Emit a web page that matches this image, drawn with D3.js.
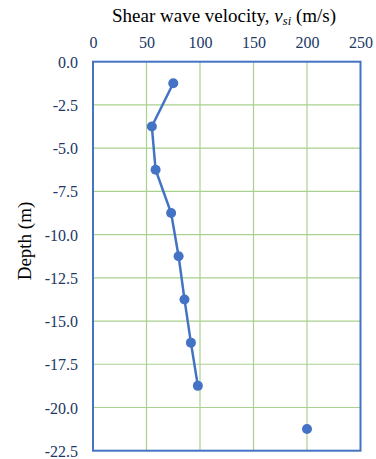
<!DOCTYPE html>
<html>
<head>
<meta charset="utf-8">
<script src="https://cdn.jsdelivr.net/npm/d3@7"></script>
<style>
  body { margin: 0; background: #fff; }
</style>
</head>
<body>
<script>
// depth of each layer midpoint (m) and its shear wave velocity (m/s)
var depths = [-1.25, -3.75, -6.25, -8.75, -11.25, -13.75, -16.25, -18.75, -21.25];
var velocities = [75, 55, 58.5, 73, 80, 85.5, 91.5, 98, 200];
// last layer is plotted as a lone marker, not joined to the profile
var joined = [true, true, true, true, true, true, true, true, false];
var xTicks = [0, 50, 100, 150, 200, 250];
var yTicks = [0, -2.5, -5, -7.5, -10, -12.5, -15, -17.5, -20, -22.5];

var W = 376, H = 459;
var plotL = 93, plotR = 360.5, plotT = 61.7, plotB = 450.7;
var serif = "'Liberation Serif', 'Times New Roman', serif";

var svg = d3.select("body").append("svg")
    .attr("width", W)
    .attr("height", H);

var x = d3.scaleLinear().domain([0, 250]).range([plotL, plotR]);
var y = d3.scaleLinear().domain([0, -22.5]).range([plotT, plotB]);

var data = depths.map(function(d, i) { return {v: velocities[i], z: d, on: joined[i]}; });

// grid
svg.append("g").selectAll("line")
    .data(xTicks.slice(1, -1))
    .enter().append("line")
    .attr("x1", function(d) { return x(d); })
    .attr("x2", function(d) { return x(d); })
    .attr("y1", plotT).attr("y2", plotB)
    .attr("stroke", "#a9d18e").attr("stroke-width", 1.2);

svg.append("g").selectAll("line")
    .data(yTicks.slice(1, -1))
    .enter().append("line")
    .attr("y1", function(d) { return y(d); })
    .attr("y2", function(d) { return y(d); })
    .attr("x1", plotL).attr("x2", plotR)
    .attr("stroke", "#a9d18e").attr("stroke-width", 1.2);

// frame
svg.append("rect")
    .attr("x", plotL).attr("y", plotT)
    .attr("width", plotR - plotL).attr("height", plotB - plotT)
    .attr("fill", "none").attr("stroke", "#4472c4").attr("stroke-width", 2);

// axes (labels only) - plain hyphen for negatives, like the original
var xAxis = svg.append("g")
    .attr("transform", "translate(0," + (plotT - 11) + ")")
    .call(d3.axisTop(x).tickValues(xTicks).tickSize(0).tickFormat(function(d) { return String(d); }))
    .attr("font-family", serif)
    .attr("font-size", 16);
xAxis.select(".domain").remove();

var yAxis = svg.append("g")
    .attr("transform", "translate(" + (plotL - 15) + ",0)")
    .call(d3.axisLeft(y).tickValues(yTicks).tickSize(0).tickFormat(function(d) { return d.toFixed(1); }))
    .attr("font-family", serif)
    .attr("font-size", 16);
yAxis.select(".domain").remove();

svg.selectAll(".tick text").attr("fill", "#203864");
yAxis.selectAll(".tick text").attr("dy", "0.35em").attr("x", 0);

// profile line
var line = d3.line()
    .defined(function(d) { return d.on; })
    .x(function(d) { return x(d.v); })
    .y(function(d) { return y(d.z); });

svg.append("path")
    .datum(data)
    .attr("d", line)
    .attr("fill", "none")
    .attr("stroke", "#4472c4")
    .attr("stroke-width", 2.5);

svg.selectAll(".dot")
    .data(data)
    .enter().append("circle")
    .attr("class", "dot")
    .attr("cx", function(d) { return x(d.v); })
    .attr("cy", function(d) { return y(d.z); })
    .attr("r", 5)
    .attr("fill", "#4472c4");

// title
var title = svg.append("text")
    .attr("x", 224).attr("y", 22)
    .attr("text-anchor", "middle")
    .style("font-family", serif)
    .style("font-size", "19px")
    .attr("fill", "#000");
title.append("tspan").text("Shear wave velocity, ");
title.append("tspan").attr("font-style", "italic").text("v");
title.append("tspan").attr("font-style", "italic").style("font-size", "12.5px").attr("dy", 3).text("si");
title.append("tspan").attr("dy", -3).text(" (m/s)");

// y label
svg.append("text")
    .attr("transform", "translate(31,241) rotate(-90)")
    .attr("text-anchor", "middle")
    .style("font-family", serif)
    .style("font-size", "19px")
    .attr("fill", "#000")
    .text("Depth (m)");
</script>
</body>
</html>
